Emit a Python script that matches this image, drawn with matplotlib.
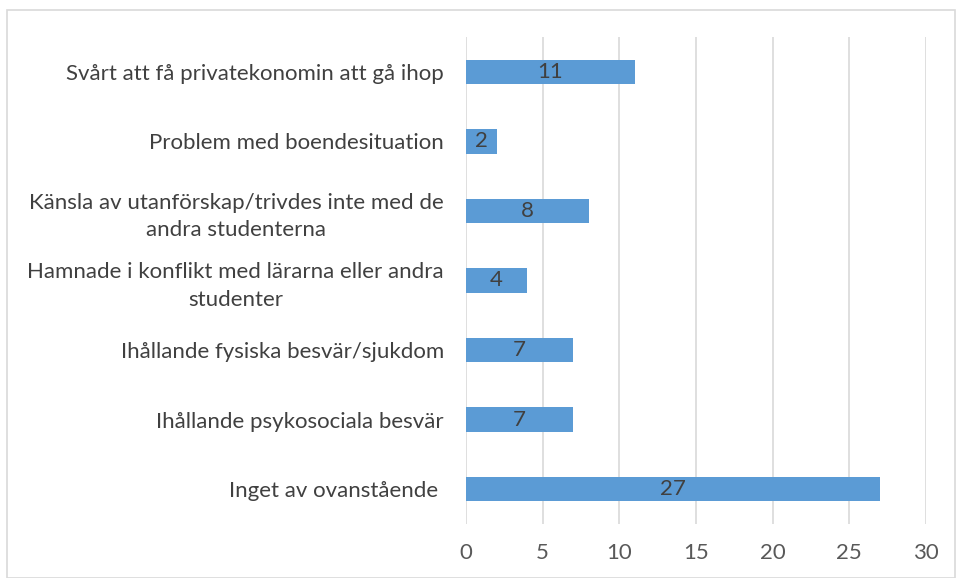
import matplotlib
matplotlib.use("Agg")
import matplotlib.pyplot as plt
from matplotlib.patches import Rectangle

categories = [
    "Svårt att få privatekonomin att gå ihop",
    "Problem med boendesituation",
    "Känsla av utanförskap/trivdes inte med de\nandra studenterna",
    "Hamnade i konflikt med lärarna eller andra\nstudenter",
    "Ihållande fysiska besvär/sjukdom",
    "Ihållande psykosociala besvär",
    "Inget av ovanstående ",
]
values = [11, 2, 8, 4, 7, 7, 27]
xticks = [0, 5, 10, 15, 20, 25, 30]

plt.rcParams['font.family'] = ['Lato', 'DejaVu Sans']

fig = plt.figure(figsize=(9.57, 5.78), dpi=100)
ax = fig.add_axes([466/957, 1-524/578, (926-466)/957, (524-37)/578])

ypos = list(range(len(categories)))[::-1]
bars = ax.barh(ypos, values, height=0.35, color='#5B9BD5', zorder=3)
for y, v in zip(ypos, values):
    ax.text(v/2, y, str(v), ha='center', va='center', fontsize=16, color='#404040', zorder=4)

ax.set_xlim(0, 30)
ax.set_ylim(-0.5, len(categories)-0.5)
ax.set_xticks(xticks)
ax.set_xticklabels([str(t) for t in xticks], fontsize=16, color='#595959')
ax.set_yticks(ypos)
ax.set_yticklabels(categories, fontsize=16, color='#404040', multialignment='center',
                   linespacing=1.45)
ax.tick_params(axis='both', length=0)
ax.tick_params(axis='y', pad=16)
ax.tick_params(axis='x', pad=14)
for s in ax.spines.values():
    s.set_visible(False)
ax.grid(axis='x', color='#d9d9d9', linewidth=1.2, zorder=0)
ax.set_axisbelow(True)

fig.patches.append(Rectangle((7/957, 0), (955-7)/957, 1-10/578, transform=fig.transFigure,
                             fill=False, edgecolor='#d9d9d9', linewidth=1.2))

fig.savefig("out.png", dpi=100)
